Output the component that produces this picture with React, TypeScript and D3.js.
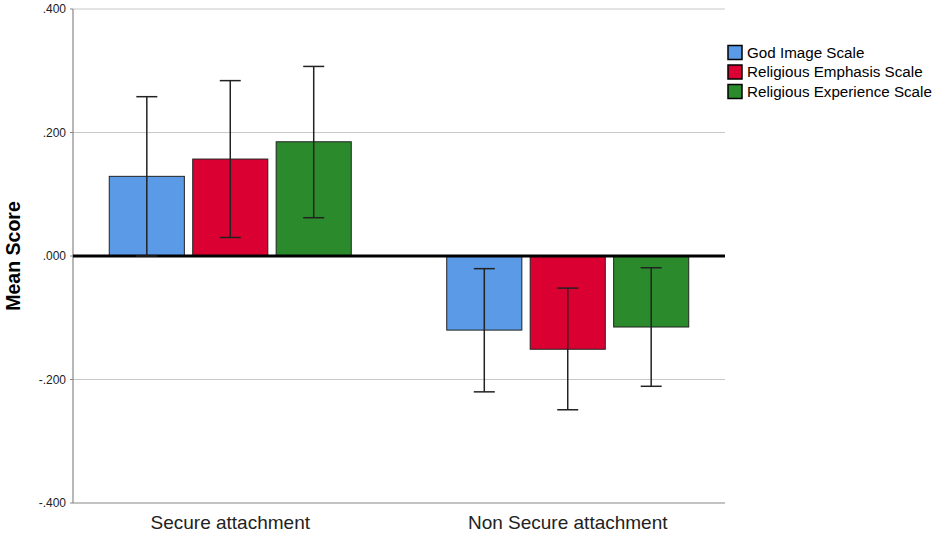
import React from "react";
import * as d3 from "d3";

const categories = ["Secure attachment", "Non Secure attachment"];
const series = ["God Image Scale", "Religious Emphasis Scale", "Religious Experience Scale"];
const colors = ["#5A9AE6", "#DB0032", "#2B8A2B"];
// means[category][series]
const means = [
  [0.129, 0.157, 0.185],
  [-0.12, -0.151, -0.115],
];
const upper = [
  [0.258, 0.284, 0.307],
  [-0.0205, -0.052, -0.019],
];
const lower = [
  [0.0, 0.03, 0.062],
  [-0.22, -0.249, -0.211],
];
const yTicks = [0.4, 0.2, 0, -0.2, -0.4];
const yTickLabels = [".400", ".200", ".000", "-.200", "-.400"];

const W = 935;
const H = 533;
const left = 73;
const right = 725;
const top = 9;
const bottom = 503;

export default function App() {
  const y = d3.scaleLinear().domain([-0.4, 0.4]).range([bottom, top]);
  const x = d3.scalePoint<string>().domain(categories).range([left, right]).padding(0.466);
  const inner = d3.scaleBand<string>().domain(series).range([-121, 121]).paddingInner(0.1);
  const font = "Arial, 'Liberation Sans', sans-serif";
  const capW = 21;
  return (
    <svg width={W} height={H} style={{ position: "fixed", left: 0, top: 0, background: "#fff" }} fontFamily={font}>
      <rect x={0} y={0} width={W} height={H} fill="#fff" />
      {yTicks.filter((t) => t !== 0 && t !== -0.4).map((t) => (
        <line key={"g" + t} x1={left} x2={right} y1={y(t)} y2={y(t)} stroke="#c8c8c8" strokeWidth={1.2} />
      ))}
      {/* axes */}
      <line x1={left} x2={left} y1={top} y2={bottom} stroke="#888" strokeWidth={1.2} />
      <line x1={left} x2={right} y1={bottom} y2={bottom} stroke="#888" strokeWidth={1.2} />
      {yTicks.map((t, i) => (
        <g key={"t" + t}>
          <line x1={left - 3} x2={left} y1={y(t)} y2={y(t)} stroke="#888" strokeWidth={1} />
          <text x={left - 7} y={y(t)} dy="0.35em" textAnchor="end" fontSize={12} fill="#222">
            {yTickLabels[i]}
          </text>
        </g>
      ))}
      {/* bars */}
      {categories.map((c, ci) =>
        series.map((s, si) => {
          const cx = (x(c) as number) + (inner(s) as number);
          const bw = inner.bandwidth();
          const v = means[ci][si];
          const y0 = y(0);
          const yv = y(v);
          return (
            <rect
              key={c + s}
              x={cx}
              y={Math.min(y0, yv)}
              width={bw}
              height={Math.abs(yv - y0)}
              fill={colors[si]}
              stroke="#222"
              strokeWidth={1}
            />
          );
        })
      )}
      {/* zero line */}
      <line x1={left} x2={right} y1={y(0)} y2={y(0)} stroke="#000" strokeWidth={3} />
      {/* error bars */}
      {categories.map((c, ci) =>
        series.map((s, si) => {
          const mx = (x(c) as number) + (inner(s) as number) + inner.bandwidth() / 2;
          const yu = y(upper[ci][si]);
          const yl = y(lower[ci][si]);
          return (
            <g key={"e" + c + s} stroke="#222" strokeWidth={1.5}>
              <line x1={mx} x2={mx} y1={yu} y2={yl} />
              <line x1={mx - capW / 2} x2={mx + capW / 2} y1={yu} y2={yu} />
              <line x1={mx - capW / 2} x2={mx + capW / 2} y1={yl} y2={yl} />
            </g>
          );
        })
      )}
      {/* x labels */}
      {categories.map((c) => (
        <text key={"x" + c} x={x(c)} y={529} textAnchor="middle" fontSize={19} fill="#222">
          {c}
        </text>
      ))}
      {/* y title */}
      <text
        transform={`translate(20,${y(0)}) rotate(-90)`}
        textAnchor="middle"
        fontSize={19.5}
        fontWeight="bold"
        fill="#000"
      >
        Mean Score
      </text>
      {/* legend */}
      {series.map((s, si) => (
        <g key={"l" + s} transform={`translate(728,${45.5 + si * 19.5})`}>
          <rect x={0} y={0} width={14} height={14} fill={colors[si]} stroke="#000" strokeWidth={1.5} />
          <text x={19} y={7} dy="0.36em" fontSize={15.2} fill="#000">
            {s}
          </text>
        </g>
      ))}
    </svg>
  );
}
